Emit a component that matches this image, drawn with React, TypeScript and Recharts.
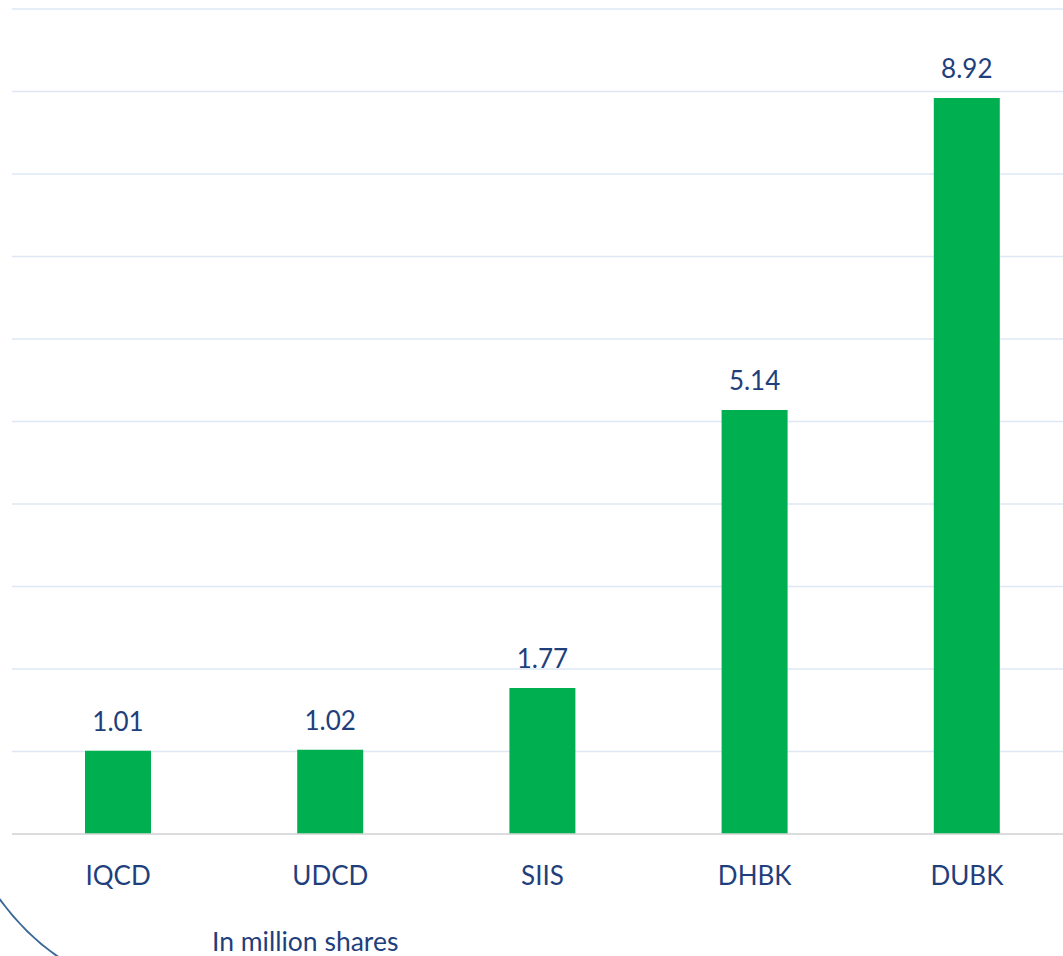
import React from "react";
import { BarChart, Bar, XAxis, YAxis, CartesianGrid, LabelList } from "recharts";

const categories = ["IQCD", "UDCD", "SIIS", "DHBK", "DUBK"];
const values = [1.01, 1.02, 1.77, 5.14, 8.92];
const yTicks = [0, 1, 2, 3, 4, 5, 6, 7, 8, 9, 10];
const unitNote = "In million shares";

const data = categories.map((c, i) => ({ name: c, value: values[i] }));

const TEXT = "#1f3f7c";
const FONT = "Lato, 'Noto Sans', sans-serif";

export default function App() {
  return (
    <div style={{ position: "absolute", left: 0, top: 0, width: 1063, height: 956, overflow: "hidden", background: "#fff" }}>
      <div style={{ position: "absolute", left: 0, top: 0 }}>
        <BarChart
          width={1075}
          height={956}
          data={data}
          margin={{ top: 9, right: 2, left: 12, bottom: 62 }}
          barCategoryGap={0}
        >
          <CartesianGrid vertical={false} stroke="#dde8f4" strokeWidth={1.5} />
          <YAxis hide domain={[0, 10]} ticks={yTicks} />
          <XAxis
            dataKey="name"
            height={60}
            axisLine={{ stroke: "#d6d6d6", strokeWidth: 1.5 }}
            tickLine={false}
            tickMargin={27}
            tick={{ fill: TEXT, fontSize: 26, fontFamily: FONT }}
          />
          <Bar dataKey="value" fill="#00b050" barSize={66} isAnimationActive={false}>
            <LabelList
              dataKey="value"
              position="top"
              offset={20}
              fill={TEXT}
              fontSize={26}
              fontFamily={FONT}
              formatter={(v: number) => v.toFixed(2)}
            />
          </Bar>
        </BarChart>
      </div>
      <svg width={1063} height={956} style={{ position: "absolute", left: 0, top: 0, pointerEvents: "none" }}>
        <path d="M -4 894 Q 24 934 60 958" fill="none" stroke="#3a6897" strokeWidth={2} />
        <text x={212} y={951} fill={TEXT} fontSize={26.5} fontFamily={FONT}>{unitNote}</text>
      </svg>
    </div>
  );
}
